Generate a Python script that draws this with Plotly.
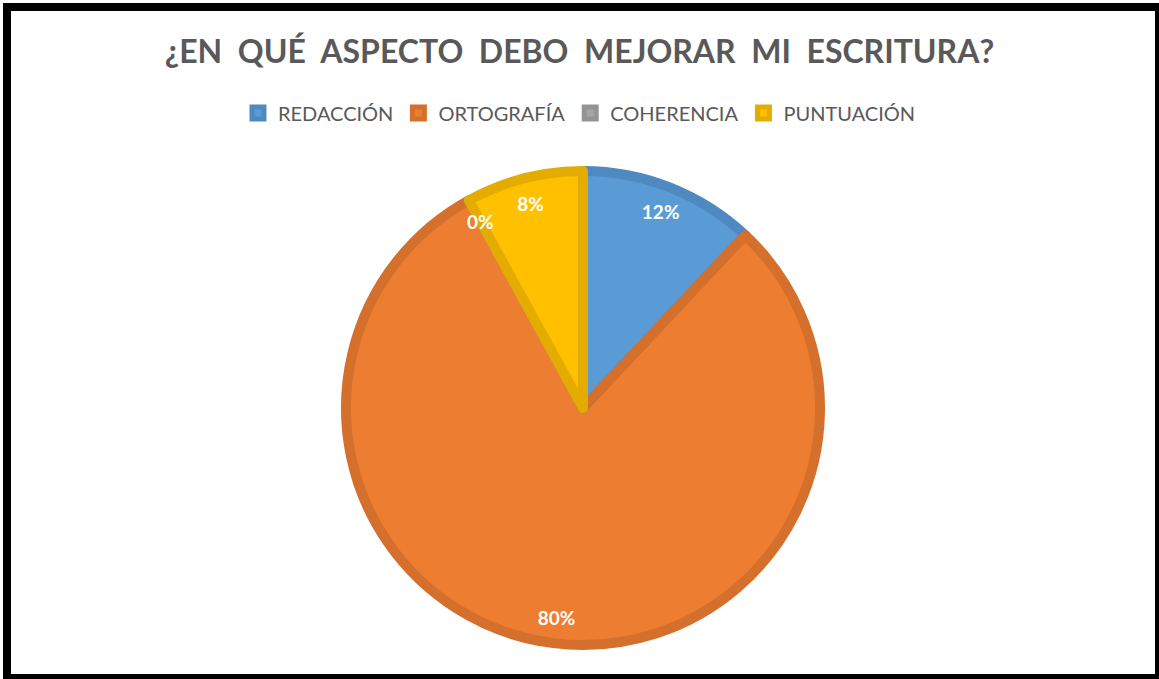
import plotly.graph_objects as go

# Data
categories = ["REDACCIÓN", "ORTOGRAFÍA", "COHERENCIA", "PUNTUACIÓN"]
values = [12, 80, 0, 8]
title_text = "¿EN\u00a0\u00a0QUÉ\u00a0\u00a0ASPECTO\u00a0\u00a0DEBO\u00a0\u00a0MEJORAR\u00a0\u00a0MI\u00a0\u00a0ESCRITURA?"

fill_colors = ["#5B9BD5", "#ED7D31", "#A5A5A5", "#FFC000"]
line_colors = ["#4E89C1", "#D46F2C", "#949494", "#E5AC00"]

W, H = 1159, 679
cx, cy, r = 583, 408, 237


def domain(rad):
    return dict(x=[(cx - rad) / W, (cx + rad) / W], y=[(H - cy - rad) / H, (H - cy + rad) / H])


fig = go.Figure()
fig.add_trace(go.Pie(
    labels=categories, values=values, sort=False, direction="clockwise", rotation=0,
    marker=dict(colors=fill_colors, line=dict(color=line_colors, width=10)),
    textinfo="none", domain=domain(r), showlegend=True,
))

# label layers (transparent) so labels sit near the rim, as in the original
label_values = [max(v, 0.001) for v in values]
pct = "%{percent:.0%}"
fig.add_trace(go.Pie(
    labels=categories, values=label_values, sort=False, direction="clockwise", rotation=0,
    hole=0.78,
    marker=dict(colors=["rgba(0,0,0,0)"] * 4, line=dict(width=0)),
    texttemplate=[pct if v > 0 else "" for v in values],
    textposition="inside", insidetextorientation="horizontal",
    textfont=dict(family="Lato", size=19, color="white", weight="bold"),
    domain=domain(r), showlegend=False, hoverinfo="skip",
))
fig.add_trace(go.Pie(
    labels=categories, values=label_values, sort=False, direction="clockwise", rotation=0,
    marker=dict(colors=["rgba(0,0,0,0)"] * 4, line=dict(width=0)),
    texttemplate=[pct if v == 0 else "" for v in values],
    textposition="inside", insidetextorientation="horizontal",
    textfont=dict(family="Lato", size=19, color="white", weight="bold"),
    domain=domain(r * 0.9), showlegend=False, hoverinfo="skip",
))

fig.update_layout(
    width=W, height=H,
    margin=dict(l=0, r=0, t=0, b=0),
    paper_bgcolor="white", plot_bgcolor="white",
    title=dict(text=title_text, x=0.5, xanchor="center", y=1 - 52 / H, yanchor="middle",
               font=dict(family="Lato", size=32, color="#595959", weight="bold")),
    legend=dict(orientation="h", x=0.5, xanchor="center", y=1 - 113 / H, yanchor="middle",
                font=dict(family="Lato", size=20, color="#595959"), traceorder="normal"),
    uniformtext=dict(mode="show", minsize=19),
    shapes=[dict(type="rect", xref="paper", yref="paper",
                 x0=7 / W, x1=1.0, y0=1 / H, y1=1 - 7 / H,
                 line=dict(color="black", width=8), fillcolor="rgba(0,0,0,0)")],
)

fig.write_html("out.html", config={"displayModeBar": False},
               post_script="document.body.style.margin='0px';")
